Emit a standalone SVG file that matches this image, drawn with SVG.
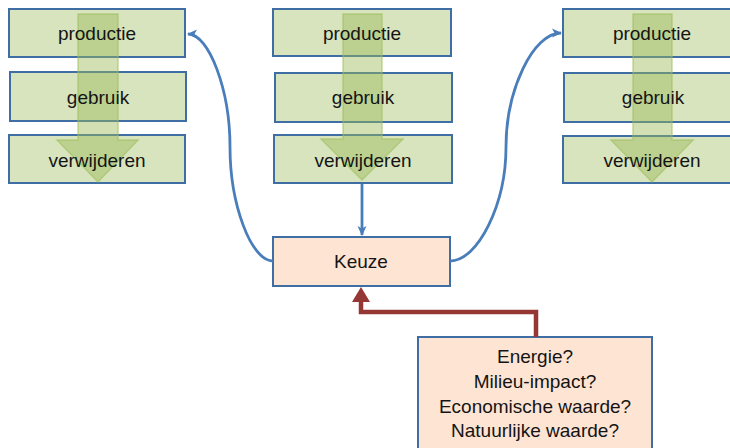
<svg xmlns="http://www.w3.org/2000/svg" width="730" height="448" viewBox="0 0 730 448">
  <defs>
    <style>
      .stage { fill: #d7e4bd; stroke: #3f6ea5; stroke-width: 2; }
      .choice { fill: #fde4d3; stroke: #3f6ea5; stroke-width: 2; }
      .flow { fill: #9bbb59; fill-opacity: 0.45; stroke: #9bbb59; stroke-opacity: 0.55; stroke-width: 1.5; }
      .lbl { font-family: "Liberation Sans", Arial, sans-serif; font-size: 19px; fill: #141414; text-anchor: middle; }
      .link { fill: none; stroke: #4a7ebb; stroke-width: 2.8; }
      .crit { fill: none; stroke: #953735; stroke-width: 4.5; stroke-linejoin: miter; }
    </style>
    <marker id="blueHead" markerWidth="12" markerHeight="12" refX="9" refY="6" orient="auto" markerUnits="userSpaceOnUse">
      <path d="M0,1.5 L10,6 L0,10.5 L2.5,6 Z" fill="#4a7ebb"/>
    </marker>
  </defs>

  <!-- left lifecycle column -->
  <g id="lifecycle-left">
    <rect class="stage" x="9" y="9" width="176" height="48"/>
    <rect class="stage" x="10" y="72" width="176" height="49"/>
    <rect class="stage" x="9" y="135" width="176" height="48"/>
    <path class="flow" d="M78,14 L118,14 L118,140 L138,140 L98,182 L57,140 L78,140 Z"/>
    <text class="lbl" x="97" y="40">productie</text>
    <text class="lbl" x="98" y="104">gebruik</text>
    <text class="lbl" x="97" y="167">verwijderen</text>
  </g>

  <!-- middle lifecycle column -->
  <g id="lifecycle-middle">
    <rect class="stage" x="273" y="9" width="178" height="47"/>
    <rect class="stage" x="275" y="73" width="177" height="49"/>
    <rect class="stage" x="274" y="135" width="178" height="48"/>
    <path class="flow" d="M343,14 L382,14 L382,139 L403,139 L362,180 L321,139 L343,139 Z"/>
    <text class="lbl" x="362" y="40">productie</text>
    <text class="lbl" x="363" y="104">gebruik</text>
    <text class="lbl" x="363" y="167">verwijderen</text>
  </g>

  <!-- right lifecycle column -->
  <g id="lifecycle-right">
    <rect class="stage" x="563" y="9" width="170" height="48"/>
    <rect class="stage" x="564" y="73" width="170" height="49"/>
    <rect class="stage" x="563" y="136" width="170" height="47"/>
    <path class="flow" d="M633,14 L672,14 L672,140 L693,140 L652,182 L611,140 L633,140 Z"/>
    <text class="lbl" x="652" y="40">productie</text>
    <text class="lbl" x="653" y="104">gebruik</text>
    <text class="lbl" x="652" y="167">verwijderen</text>
  </g>

  <!-- decision node -->
  <g id="keuze">
    <rect class="choice" x="273" y="237" width="177" height="49"/>
    <text class="lbl" x="361" y="268">Keuze</text>
  </g>

  <!-- criteria node -->
  <g id="criteria">
    <rect class="choice" x="418" y="337" width="234" height="120"/>
    <text class="lbl" x="535" y="363">Energie?</text>
    <text class="lbl" x="535" y="388">Milieu-impact?</text>
    <text class="lbl" x="535" y="413">Economische waarde?</text>
    <text class="lbl" x="535" y="437">Natuurlijke waarde?</text>
  </g>

  <!-- connectors -->
  <g id="connectors">
    <path class="link" d="M362,184 L362,235" marker-end="url(#blueHead)"/>
    <path class="link" d="M273,261 C251,261 230,204 230,147 C230,90 209,34 188,34" marker-end="url(#blueHead)"/>
    <path class="link" d="M450,261 C478,261 506,204 506,147 C506,90 533,33 561,33" marker-end="url(#blueHead)"/>
    <path class="crit" d="M536,337 L536,312 L361,312 L361,300"/>
    <path d="M352,302 L361,287 L370,302 Z" fill="#953735"/>
  </g>
</svg>
